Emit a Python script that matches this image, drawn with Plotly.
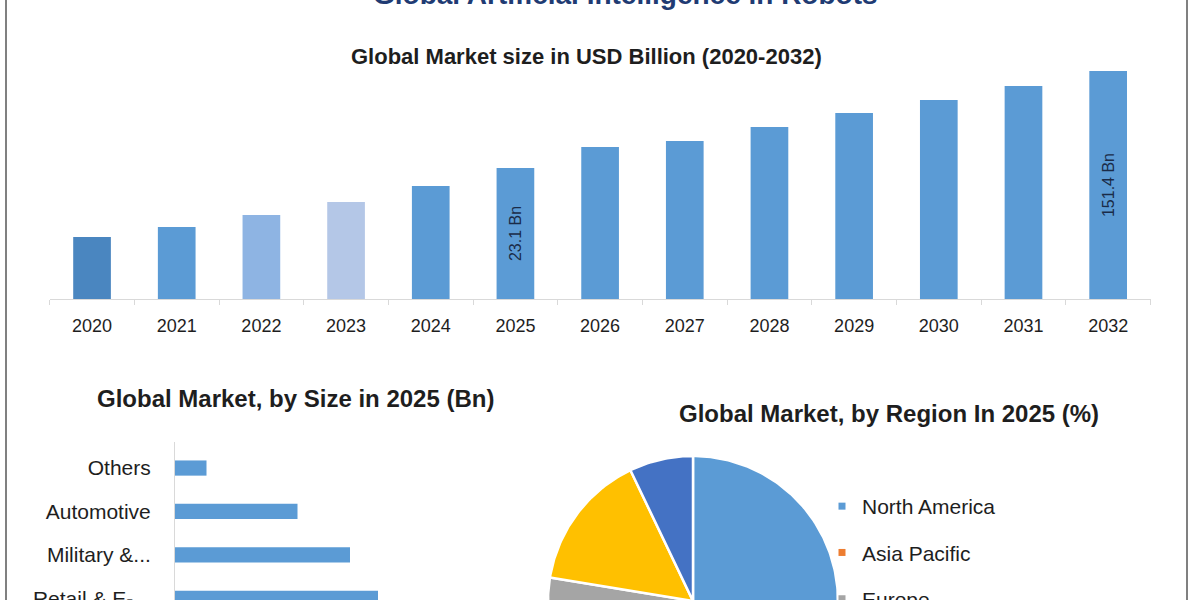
import numpy as np
import plotly.graph_objects as go

# ---------------- data ----------------
years = ["2020", "2021", "2022", "2023", "2024", "2025", "2026",
         "2027", "2028", "2029", "2030", "2031", "2032"]
# drawn bar heights (infographic is not to scale; 2032 bar = 151.4)
bar_heights = [41.2, 47.8, 55.8, 64.4, 75.0, 87.0, 100.9,
               104.9, 114.2, 123.5, 132.1, 141.4, 151.4]
bar_labels = ["", "", "", "", "", "23.1 Bn", "", "", "", "", "", "", "151.4 Bn"]
bar_colors = ["#4a86c0", "#5b9bd5", "#8eb4e3", "#b4c7e7", "#5b9bd5", "#5b9bd5",
              "#5b9bd5", "#5b9bd5", "#5b9bd5", "#5b9bd5", "#5b9bd5", "#5b9bd5", "#5b9bd5"]

segments = ["Others", "Automotive", "Military &...", "Retail & E-..."]
segment_values = [0.9, 3.5, 5.0, 5.8]

regions = ["North America", "Asia Pacific", "Europe", "Middle East & Africa", "South America"]
region_shares = [38.0, 26.0, 13.6, 15.3, 7.1]
region_colors = ["#5b9bd5", "#ed7d31", "#a5a5a5", "#ffc000", "#4472c4"]

FONT = "Liberation Sans"
TXT = "#1e1e1e"
W, H = 1200, 600

fig = go.Figure()

# ---------------- top: market size bars ----------------
fig.add_trace(go.Bar(
    x=years, y=bar_heights, marker=dict(color=bar_colors, line=dict(width=0)),
    width=0.445, text=bar_labels, textposition="inside", insidetextanchor="middle",
    textangle=-90, textfont=dict(family=FONT, size=16, color="#1a2b48"),
    xaxis="x", yaxis="y", showlegend=False, hoverinfo="x+y"))

# ---------------- bottom-left: segments ----------------
fig.add_trace(go.Bar(
    x=segment_values, y=segments, orientation="h", width=0.35,
    marker=dict(color="#5b9bd5", line=dict(width=0)),
    xaxis="x2", yaxis="y2", showlegend=False))

# ---------------- bottom-right: region pie (drawn as filled slices) ----------------
R = 145.0
start = 0.0
for name, share, col in zip(regions, region_shares, region_colors):
    end = start + share / 100.0 * 2 * np.pi
    th = np.linspace(start, end, max(int(np.degrees(end - start)), 2) + 1)
    xs = np.concatenate([[0.0], R * np.sin(th), [0.0]])
    ys = np.concatenate([[0.0], R * np.cos(th), [0.0]])
    fig.add_trace(go.Scatter(
        x=xs, y=ys, mode="lines", fill="toself", fillcolor=col,
        line=dict(color="white", width=2.5), xaxis="x3", yaxis="y3",
        showlegend=False, hoverinfo="text", text=f"{name}: {share}%"))
    start = end

for i, (name, col) in enumerate(zip(regions, region_colors)):
    fig.add_trace(go.Scatter(
        x=[None], y=[None], mode="markers", name=name, legendgroup=f"g{i}",
        marker=dict(symbol="square", size=7, color=col),
        xaxis="x3", yaxis="y3", showlegend=True))

# ---------------- layout ----------------
px_x = lambda p: p / W
px_y = lambda p: 1 - p / H

fig.update_layout(
    width=W, height=H, margin=dict(l=0, r=0, t=0, b=0, autoexpand=False),
    paper_bgcolor="white", plot_bgcolor="white",
    font=dict(family=FONT, color=TXT),
    xaxis=dict(domain=[px_x(49.7), px_x(1150.5)], type="category",
               showline=True, linecolor="#d9d9d9", linewidth=1,
               ticks="outside", tickson="boundaries", ticklen=5, tickcolor="#d9d9d9",
               tickfont=dict(size=18, color=TXT), ticklabelstandoff=10,
               showgrid=False, zeroline=False, fixedrange=True),
    yaxis=dict(domain=[px_y(299), px_y(71)], range=[0, 151.4], visible=False,
               showgrid=False, zeroline=False, fixedrange=True),
    xaxis2=dict(domain=[px_x(175), px_x(540)], range=[0, 365 / 35.0], visible=False,
                showgrid=False, zeroline=False, fixedrange=True),
    yaxis2=dict(domain=[0, px_y(442)], type="category", categoryarray=segments,
                range=[3.04, -0.6], showline=True, linecolor="#d9d9d9", linewidth=1,
                ticks="", tickfont=dict(size=21, color=TXT), ticklabelstandoff=19,
                showgrid=False, zeroline=False, fixedrange=True, anchor="x2"),
    xaxis3=dict(domain=[px_x(528), px_x(864)], range=[528 - 693, 864 - 693],
                visible=False, fixedrange=True),
    yaxis3=dict(domain=[0, px_y(432)], range=[601 - 600, 601 - 432],
                visible=False, fixedrange=True, anchor="x3"),
    legend=dict(x=px_x(822), y=px_y(486), xanchor="left", yanchor="top",
                font=dict(size=21, color=TXT), bgcolor="rgba(0,0,0,0)",
                traceorder="grouped", tracegroupgap=16, itemwidth=30),
    shapes=[
        dict(type="line", xref="paper", yref="paper", x0=px_x(6), x1=px_x(6), y0=0, y1=1,
             line=dict(color="#808080", width=2)),
        dict(type="line", xref="paper", yref="paper", x0=px_x(1187), x1=px_x(1187), y0=0, y1=1,
             line=dict(color="#808080", width=2)),
    ],
    annotations=[
        dict(text="<b>Global Artificial Intelligence in Robots</b>", xref="paper", yref="paper",
             x=px_x(625), y=px_y(12), xanchor="center", yanchor="bottom", showarrow=False,
             font=dict(size=28, color="#1f3b73")),
        dict(text="<b>Global Market size in USD Billion (2020-2032)</b>", xref="paper", yref="paper",
             x=px_x(586), y=px_y(57), xanchor="center", yanchor="middle", showarrow=False,
             font=dict(size=22, color=TXT)),
        dict(text="<b>Global Market, by Size in 2025 (Bn)</b>", xref="paper", yref="paper",
             x=px_x(295), y=px_y(398), xanchor="center", yanchor="middle", showarrow=False,
             font=dict(size=24, color=TXT)),
        dict(text="<b>Global Market, by Region In 2025 (%)</b>", xref="paper", yref="paper",
             x=px_x(889), y=px_y(413), xanchor="center", yanchor="middle", showarrow=False,
             font=dict(size=24, color=TXT)),
    ],
)

fig.write_html("out.html")
